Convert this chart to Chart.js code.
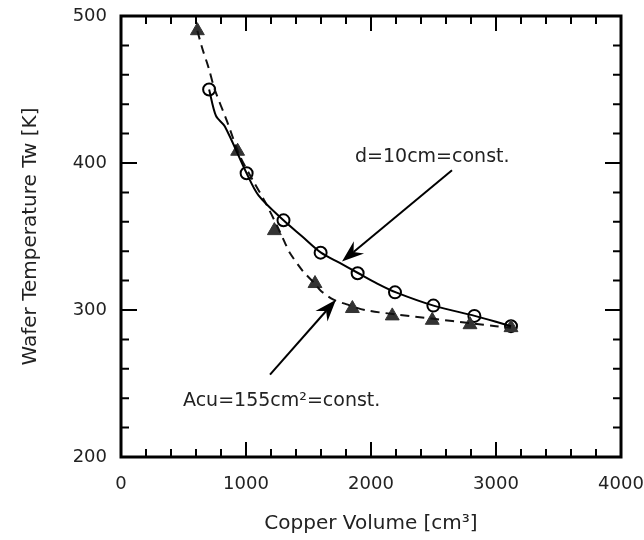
<!DOCTYPE html>
<html><head><meta charset="utf-8">
<script src="https://cdn.jsdelivr.net/npm/chart.js@4.4.1/dist/chart.umd.min.js"></script>
<style>html,body{margin:0;padding:0;background:#fff}#wrap{width:644px;height:540px}</style>
</head><body><div id="wrap"><canvas id="c" width="644" height="540"></canvas></div>
<script>
// ---- data ----
const volumeCircles   = [705, 1005, 1300, 1597, 1893, 2192, 2499, 2827, 3120];
const tempCircles     = [450, 393, 361, 339, 325, 312, 303, 296, 289];
const volumeTriangles = [611, 933, 1227, 1552, 1851, 2170, 2490, 2792, 3120];
const tempTriangles   = [490, 408, 354, 318, 301, 296, 293, 290, 288];
// drawn curves (solid: d=10cm const, dashed: Acu=155cm2 const)
const solidCurveX  = [705, 760, 830, 1005, 1100, 1300, 1450, 1600, 1750, 1900, 2050, 2200, 2500, 2830, 3000, 3120];
const solidCurveY  = [450, 432, 425, 393, 378, 361, 350, 339, 332, 325, 318, 312, 303, 296, 292, 289];
const dashedCurveX = [611, 650, 700, 750, 850, 950, 1050, 1150, 1250, 1310, 1350, 1450, 1550, 1600, 1700, 1800, 1950, 2200, 2500, 2800, 3000, 3120];
const dashedCurveY = [490, 478, 465, 450, 428, 405, 389, 374, 357, 346, 339, 327, 318, 313, 307, 304, 300, 297, 294, 291, 289, 288];
const xTickValues = [0, 1000, 2000, 3000, 4000];
const yTickValues = [200, 300, 400, 500];
const xMinorStep = 200, yMinorStep = 20;
const xTitle = 'Copper Volume [cm³]';
const yTitle = 'Wafer Temperature Tw [K]';
// annotations: text anchor and arrow (tail -> tip) in data units
const annText  = ['d=10cm=const.', 'Acu=155cm²=const.'];
const annTextX = [1872, 496];
const annTextY = [404, 238];
const arrowTailX = [2648, 1192];
const arrowTailY = [395, 256];
const arrowTipX  = [1768, 1720];
const arrowTipY  = [333, 307];

const FONT = "'DejaVu Sans', sans-serif";
const toXY = (xs, ys) => xs.map((x, i) => ({x, y: ys[i]}));

const framePlugin = {
  id: 'frame',
  afterDatasetsDraw(chart) {
    const {ctx, chartArea: a} = chart;
    const xs = chart.scales.x, ys = chart.scales.y;
    ctx.save();
    ctx.strokeStyle = '#000';
    ctx.lineWidth = 2;
    ctx.beginPath();
    for (let v = xs.min; v <= xs.max + 1e-6; v += xMinorStep) {
      const px = xs.getPixelForValue(v);
      const len = (v % 1000 === 0) ? 15 : 8;
      ctx.moveTo(px, a.bottom); ctx.lineTo(px, a.bottom - len);
      ctx.moveTo(px, a.top); ctx.lineTo(px, a.top + len);
    }
    for (let v = ys.min; v <= ys.max + 1e-6; v += yMinorStep) {
      const py = ys.getPixelForValue(v);
      const len = (v % 100 === 0) ? 16 : 8;
      ctx.moveTo(a.left, py); ctx.lineTo(a.left + len, py);
      ctx.moveTo(a.right, py); ctx.lineTo(a.right - len, py);
    }
    ctx.stroke();
    ctx.lineWidth = 3;
    ctx.strokeRect(a.left, a.top, a.right - a.left, a.bottom - a.top);

    // annotations
    ctx.fillStyle = '#222';
    ctx.font = '19px ' + FONT;
    ctx.textBaseline = 'middle';
    ctx.textAlign = 'left';
    annText.forEach((t, i) => {
      ctx.fillText(t, xs.getPixelForValue(annTextX[i]), ys.getPixelForValue(annTextY[i]));
    });
    ctx.strokeStyle = '#000';
    ctx.fillStyle = '#000';
    ctx.lineWidth = 2;
    arrowTipX.forEach((_, i) => {
      const x1 = xs.getPixelForValue(arrowTailX[i]), y1 = ys.getPixelForValue(arrowTailY[i]);
      const x2 = xs.getPixelForValue(arrowTipX[i]),  y2 = ys.getPixelForValue(arrowTipY[i]);
      const ang = Math.atan2(y2 - y1, x2 - x1);
      const L = 22, W = 8, N = 7;
      const bx = x2 - L * Math.cos(ang), by = y2 - L * Math.sin(ang);
      const nx = x2 - (L - N) * Math.cos(ang), ny = y2 - (L - N) * Math.sin(ang);
      ctx.beginPath();
      ctx.moveTo(x1, y1); ctx.lineTo(nx, ny); ctx.stroke();
      ctx.beginPath();
      ctx.moveTo(x2, y2);
      ctx.lineTo(bx + W * Math.sin(ang), by - W * Math.cos(ang));
      ctx.lineTo(nx, ny);
      ctx.lineTo(bx - W * Math.sin(ang), by + W * Math.cos(ang));
      ctx.closePath();
      ctx.fill();
    });
    ctx.restore();
  }
};

new Chart(document.getElementById('c'), {
  type: 'scatter',
  data: {
    datasets: [
      {data: toXY(solidCurveX, solidCurveY), showLine: true, borderColor: '#000', borderWidth: 2,
       pointRadius: 0, tension: 0.3, fill: false},
      {data: toXY(dashedCurveX, dashedCurveY), showLine: true, borderColor: '#111', borderWidth: 2,
       borderDash: [9, 6], pointRadius: 0, tension: 0.3, fill: false},
      {data: toXY(volumeTriangles, tempTriangles), showLine: false, pointStyle: 'triangle',
       pointRadius: 8, backgroundColor: '#333', borderColor: '#333', borderWidth: 1},
      {data: toXY(volumeCircles, tempCircles), showLine: false, pointStyle: 'circle',
       pointRadius: 6, backgroundColor: 'rgba(255,255,255,0)', borderColor: '#000', borderWidth: 2}
    ]
  },
  options: {
    responsive: false, animation: false, devicePixelRatio: 1,
    layout: {padding: {left: 0, right: 23, top: 16, bottom: 0}},
    plugins: {legend: {display: false}, tooltip: {enabled: false}},
    scales: {
      x: {
        type: 'linear', min: 0, max: 4000,
        afterBuildTicks: s => { s.ticks = xTickValues.map(v => ({value: v})); },
        afterFit: s => { s.height = 83; s.paddingLeft = 0; s.paddingRight = 0; },
        grid: {display: false, drawTicks: false, tickLength: 0},
        border: {display: false},
        ticks: {font: {family: FONT, size: 18}, color: '#222', padding: 17, maxRotation: 0, autoSkip: false,
                callback: v => String(v)},
        title: {display: true, text: xTitle, font: {family: FONT, size: 20}, color: '#222', padding: {top: 0, bottom: 4}}
      },
      y: {
        type: 'linear', min: 200, max: 500,
        afterBuildTicks: s => { s.ticks = yTickValues.map(v => ({value: v})); },
        afterFit: s => { s.width = 121; s.paddingTop = 0; s.paddingBottom = 0; },
        grid: {display: false, drawTicks: false, tickLength: 0},
        border: {display: false},
        ticks: {font: {family: FONT, size: 18}, color: '#222', padding: 14, callback: v => String(v)},
        title: {display: true, text: yTitle, font: {family: FONT, size: 20}, color: '#222', padding: {top: 19, bottom: 0}}
      }
    }
  },
  plugins: [framePlugin]
});
</script>
</body></html>
